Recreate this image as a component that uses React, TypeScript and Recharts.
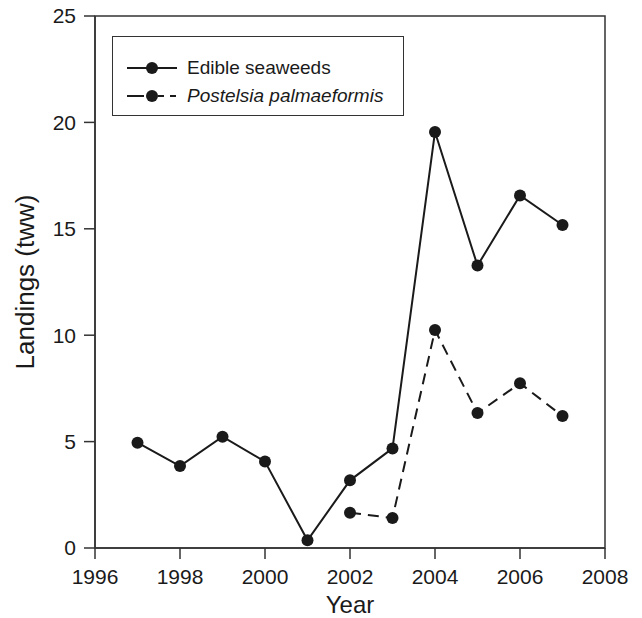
import React from 'react';
import { LineChart, Line, XAxis, YAxis, Legend, ReferenceArea } from 'recharts';

// Landings per year
const years = [1997, 1998, 1999, 2000, 2001, 2002, 2003, 2004, 2005, 2006, 2007];
const edibleSeaweeds = [4.95, 3.85, 5.23, 4.06, 0.36, 3.18, 4.68, 19.55, 13.27, 16.57, 15.18];
const postelsia = [null, null, null, null, null, 1.66, 1.41, 10.24, 6.34, 7.74, 6.2];

const xTicks = [1996, 1998, 2000, 2002, 2004, 2006, 2008];
const yTicks = [0, 5, 10, 15, 20, 25];

const SERIES = [
  { key: 'edible', name: 'Edible seaweeds', dash: undefined as string | undefined, italic: false },
  { key: 'postelsia', name: 'Postelsia palmaeformis', dash: '11 7', italic: true },
];

const data = years.map((year, i) => ({
  year,
  edible: edibleSeaweeds[i],
  postelsia: postelsia[i],
}));

const FONT = '"Liberation Sans", Arial, Helvetica, sans-serif';
const INK = '#1a1a1a';
const AXIS = '#333';

function LegendBox() {
  return (
    <div
      style={{
        width: 292,
        height: 80,
        boxSizing: 'border-box',
        border: `1.5px solid ${AXIS}`,
        background: '#fff',
        fontFamily: FONT,
        fontSize: 19,
        color: INK,
        paddingTop: 17,
      }}
    >
      {SERIES.map((s) => (
        <div key={s.key} style={{ display: 'flex', alignItems: 'center', height: 28 }}>
          <svg width={74} height={16} style={{ flexShrink: 0 }}>
            {s.dash ? (
              <>
                <line x1={14} y1={8} x2={31} y2={8} stroke={INK} strokeWidth={2} />
                <line x1={45} y1={8} x2={51} y2={8} stroke={INK} strokeWidth={2} />
                <line x1={57} y1={8} x2={63} y2={8} stroke={INK} strokeWidth={2} />
              </>
            ) : (
              <line x1={14} y1={8} x2={64} y2={8} stroke={INK} strokeWidth={2} />
            )}
            <circle cx={39} cy={8} r={6} fill={INK} />
          </svg>
          <span style={{ fontStyle: s.italic ? 'italic' : 'normal' }}>{s.name}</span>
        </div>
      ))}
    </div>
  );
}

export default function App() {
  return (
    <div style={{ position: 'absolute', left: 0, top: 0, background: '#fff' }}>
      <LineChart width={642} height={618} data={data} margin={{ top: 16, right: 37, bottom: 0, left: 0 }}>
        <ReferenceArea x1={1996} x2={2008} y1={0} y2={25} fill="none" stroke={AXIS} strokeWidth={1.5} />
        <XAxis
          dataKey="year"
          type="number"
          domain={[1996, 2008]}
          ticks={xTicks}
          height={70}
          tickSize={11}
          tickMargin={10}
          stroke={AXIS}
          strokeWidth={1.5}
          tick={{ fill: INK, fontSize: 21, fontFamily: FONT }}
          label={{ value: 'Year', position: 'insideBottom', offset: 5, fill: INK, fontSize: 24, fontFamily: FONT }}
        />
        <YAxis
          type="number"
          domain={[0, 25]}
          ticks={yTicks}
          width={95}
          tickSize={11}
          tickMargin={8}
          stroke={AXIS}
          strokeWidth={1.5}
          tick={{ fill: INK, fontSize: 21, fontFamily: FONT }}
          label={({ viewBox }: any) => {
            const cy = viewBox.y + viewBox.height / 2;
            return (
              <text
                x={25}
                y={cy}
                transform={`rotate(-90 25 ${cy})`}
                textAnchor="middle"
                dominantBaseline="central"
                fill={INK}
                fontSize={26}
                fontFamily={FONT}
              >
                Landings (tww)
              </text>
            );
          }}
        />
        <Legend
          layout="vertical"
          align="center"
          verticalAlign="middle"
          wrapperStyle={{ left: 112, top: 36, width: 292, height: 80 }}
          content={() => <LegendBox />}
        />
        {SERIES.map((s) => (
          <Line
            key={s.key}
            dataKey={s.key}
            name={s.name}
            type="linear"
            stroke={INK}
            strokeWidth={2}
            strokeDasharray={s.dash}
            dot={{ r: 6, fill: INK, stroke: INK, strokeWidth: 0 }}
            activeDot={false}
            connectNulls={false}
            isAnimationActive={false}
          />
        ))}
      </LineChart>
    </div>
  );
}
